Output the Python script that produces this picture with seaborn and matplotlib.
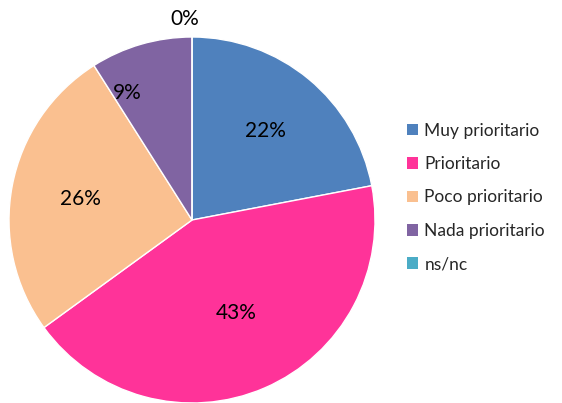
import numpy as np
import matplotlib.pyplot as plt
import seaborn as sns
from matplotlib.patches import Patch

categories = ['Muy prioritario', 'Prioritario', 'Poco prioritario', 'Nada prioritario', 'ns/nc']
values = [22, 43, 26, 9, 0]
colors = ['#4F81BD', '#FF3399', '#FAC090', '#8064A2', '#4BACC6']

sns.set_style('white')
plt.rcParams['font.family'] = ['Lato', 'DejaVu Sans']

fig = plt.figure(figsize=(5.62, 4.03), dpi=100)
# pie centred at about (192, 220) px with radius ~183 px
ax = fig.add_axes([9 / 562, 0, 366 / 562, 366 / 403])

wedges, _ = ax.pie(values, colors=colors, startangle=90, counterclock=False,
                   wedgeprops=dict(edgecolor='white', linewidth=1))
ax.set_xlim(-1, 1)
ax.set_ylim(-1, 1)
ax.set_aspect('equal')
ax.axis('off')

# label distance / angle nudge per slice (Excel-like placement)
label_r = [0.63, 0.56, 0.62, 0.78, 1.1]
label_shift = [0, 2, 0, 11, 2]
for w, v, r, s in zip(wedges, values, label_r, label_shift):
    mid = np.deg2rad((w.theta1 + w.theta2) / 2 + s)
    ax.text(r * np.cos(mid), r * np.sin(mid), f'{v}%', ha='center', va='center',
            fontsize=15, color='black', clip_on=False)

handles = [Patch(facecolor=c, edgecolor='none') for c in colors]
fig.legend(handles, categories, loc='center left', bbox_to_anchor=(0.712, 0.51),
           frameon=False, fontsize=12.5, handlelength=0.65, handleheight=0.65,
           handletextpad=0.35, labelspacing=1.0, borderaxespad=0)

fig.savefig('out.png', dpi=100)
